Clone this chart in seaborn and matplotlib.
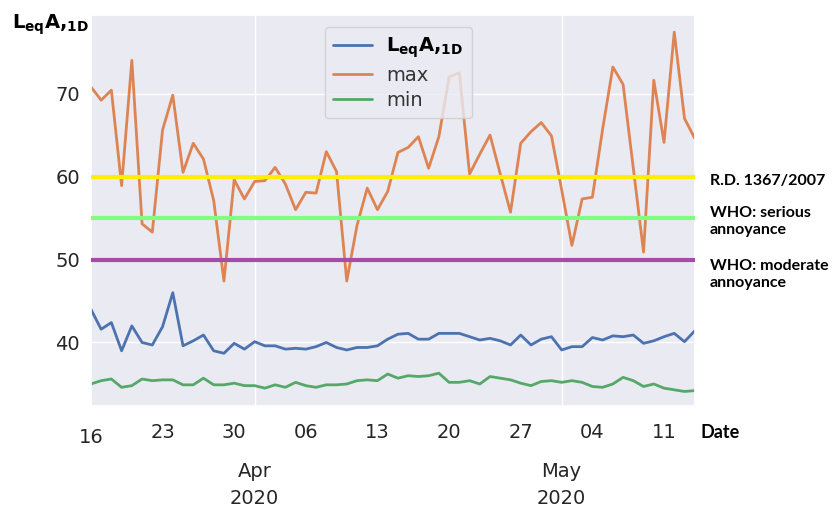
import numpy as np
import pandas as pd
import matplotlib
matplotlib.use("Agg")
import matplotlib.pyplot as plt
import matplotlib.dates as mdates
import matplotlib.transforms as mtransforms
import seaborn as sns

# ---- data ----
start_date = "2020-03-16"
leq = [44.0, 41.6, 42.4, 39.0, 42.0, 40.0, 39.7, 41.9, 46.0, 39.6,
       40.2, 40.9, 39.0, 38.7, 39.9, 39.2, 40.1, 39.6, 39.6, 39.2,
       39.3, 39.2, 39.5, 40.0, 39.4, 39.1, 39.4, 39.4, 39.6, 40.4,
       41.0, 41.1, 40.4, 40.4, 41.1, 41.1, 41.1, 40.7, 40.3, 40.5,
       40.2, 39.7, 40.9, 39.7, 40.4, 40.7, 39.1, 39.5, 39.5, 40.6,
       40.3, 40.8, 40.7, 40.9, 39.9, 40.2, 40.7, 41.1, 40.1, 41.4]
lmax = [70.8, 69.2, 70.4, 58.9, 74.0, 54.3, 53.3, 65.6, 69.8, 60.5,
        64.0, 62.1, 57.1, 47.4, 59.6, 57.3, 59.4, 59.5, 61.1, 59.1,
        56.0, 58.1, 58.0, 63.0, 60.6, 47.4, 54.1, 58.6, 56.0, 58.2,
        62.9, 63.5, 64.8, 61.0, 64.8, 72.0, 72.5, 60.3, 62.7, 65.0,
        60.3, 55.7, 64.0, 65.4, 66.5, 64.9, 58.4, 51.7, 57.3, 57.5,
        65.7, 73.2, 71.1, 61.0, 50.9, 71.6, 64.1, 77.4, 67.0, 64.6]
lmin = [35.0, 35.4, 35.6, 34.6, 34.8, 35.6, 35.4, 35.5, 35.5, 34.9,
        34.9, 35.7, 34.9, 34.9, 35.1, 34.8, 34.8, 34.5, 34.9, 34.6,
        35.2, 34.8, 34.6, 34.9, 34.9, 35.0, 35.4, 35.5, 35.4, 36.2,
        35.7, 36.0, 35.9, 36.0, 36.3, 35.2, 35.2, 35.4, 35.0, 35.9,
        35.7, 35.5, 35.1, 34.8, 35.3, 35.4, 35.2, 35.4, 35.2, 34.7,
        34.6, 35.0, 35.8, 35.4, 34.7, 35.0, 34.5, 34.3, 34.1, 34.2]
leq_label = r"$\mathbf{L_{eq}A{,}_{1D}}$"
series_labels = [leq_label, "max", "min"]
thresholds = [60, 55, 50]
threshold_labels = ["R.D. 1367/2007", "WHO: serious\nannoyance", "WHO: moderate\nannoyance"]
threshold_colors = ["#FFEE00", "#80FF80", "#A64CA6"]
threshold_text_y = [59.4, 54.6, 48.2]
y_ticks = [40, 50, 60, 70]

# ---- plot ----
sns.set_theme(style="darkgrid")
fig = plt.figure(figsize=(8.34, 5.13), dpi=100)
ax = fig.add_axes([0.109, 0.2086, 0.724, 0.762])

dates = pd.date_range(start_date, periods=len(leq), freq="D")
df = pd.DataFrame({"Date": dates, "leq": leq, "max": lmax, "min": lmin})
pal = sns.color_palette("deep")
for col, lab, c in zip(["leq", "max", "min"], series_labels, pal[:3]):
    sns.lineplot(data=df, x="Date", y=col, ax=ax, color=c, lw=2.0, label=lab)

for v, c in zip(thresholds, threshold_colors):
    ax.axhline(v, color=c, lw=3, zorder=3)

ax.set_xlim(dates[0], dates[-1])
ax.set_ylim(32.35, 79.45)
ax.set_yticks(y_ticks)
ax.tick_params(axis="y", labelsize=14, colors="#262626", length=0, pad=8)

ax.xaxis.set_major_locator(mdates.MonthLocator())
ax.xaxis.set_major_formatter(mdates.DateFormatter("%b\n%Y"))
ax.xaxis.set_minor_locator(mdates.WeekdayLocator(byweekday=mdates.MO))
ax.xaxis.set_minor_formatter(mdates.DateFormatter("%d"))
ax.tick_params(axis="x", which="minor", labelsize=14, colors="#262626", length=0, pad=12)
ax.tick_params(axis="x", which="major", labelsize=14, colors="#262626", length=0, pad=40)
for t in ax.xaxis.get_majorticklabels():
    t.set_linespacing(1.55)
ax.set_xlabel("")
ax.set_ylabel("")

leg = ax.legend(loc="upper center", bbox_to_anchor=(0.509, 0.995), fontsize=14,
                frameon=True, handlelength=2.0, labelspacing=0.3,
                handletextpad=0.7, borderpad=0.45)
for i, t in enumerate(leg.get_texts()):
    t.set_color("black" if i == 0 else "#333333")

trans = mtransforms.blended_transform_factory(ax.transAxes, ax.transData)
for lab, ty in zip(threshold_labels, threshold_text_y):
    ax.text(1.025, ty, lab, transform=trans, ha="left", va="center",
            fontsize=11.5, fontweight="bold", family="Lato", color="black",
            linespacing=1.3)

fig.text(0.014, 1 - 25 / 513, leq_label, fontsize=14,
         ha="left", va="center", color="black")
fig.text(700 / 834, 1 - 432 / 513, "Date", fontsize=13, fontweight="bold",
         family="Lato", ha="left", va="center", color="black")

fig.canvas.draw()
mt = ax.xaxis.get_minor_ticks()
if mt:
    mt[0].set_pad(16)

fig.savefig("out.png", dpi=100)
